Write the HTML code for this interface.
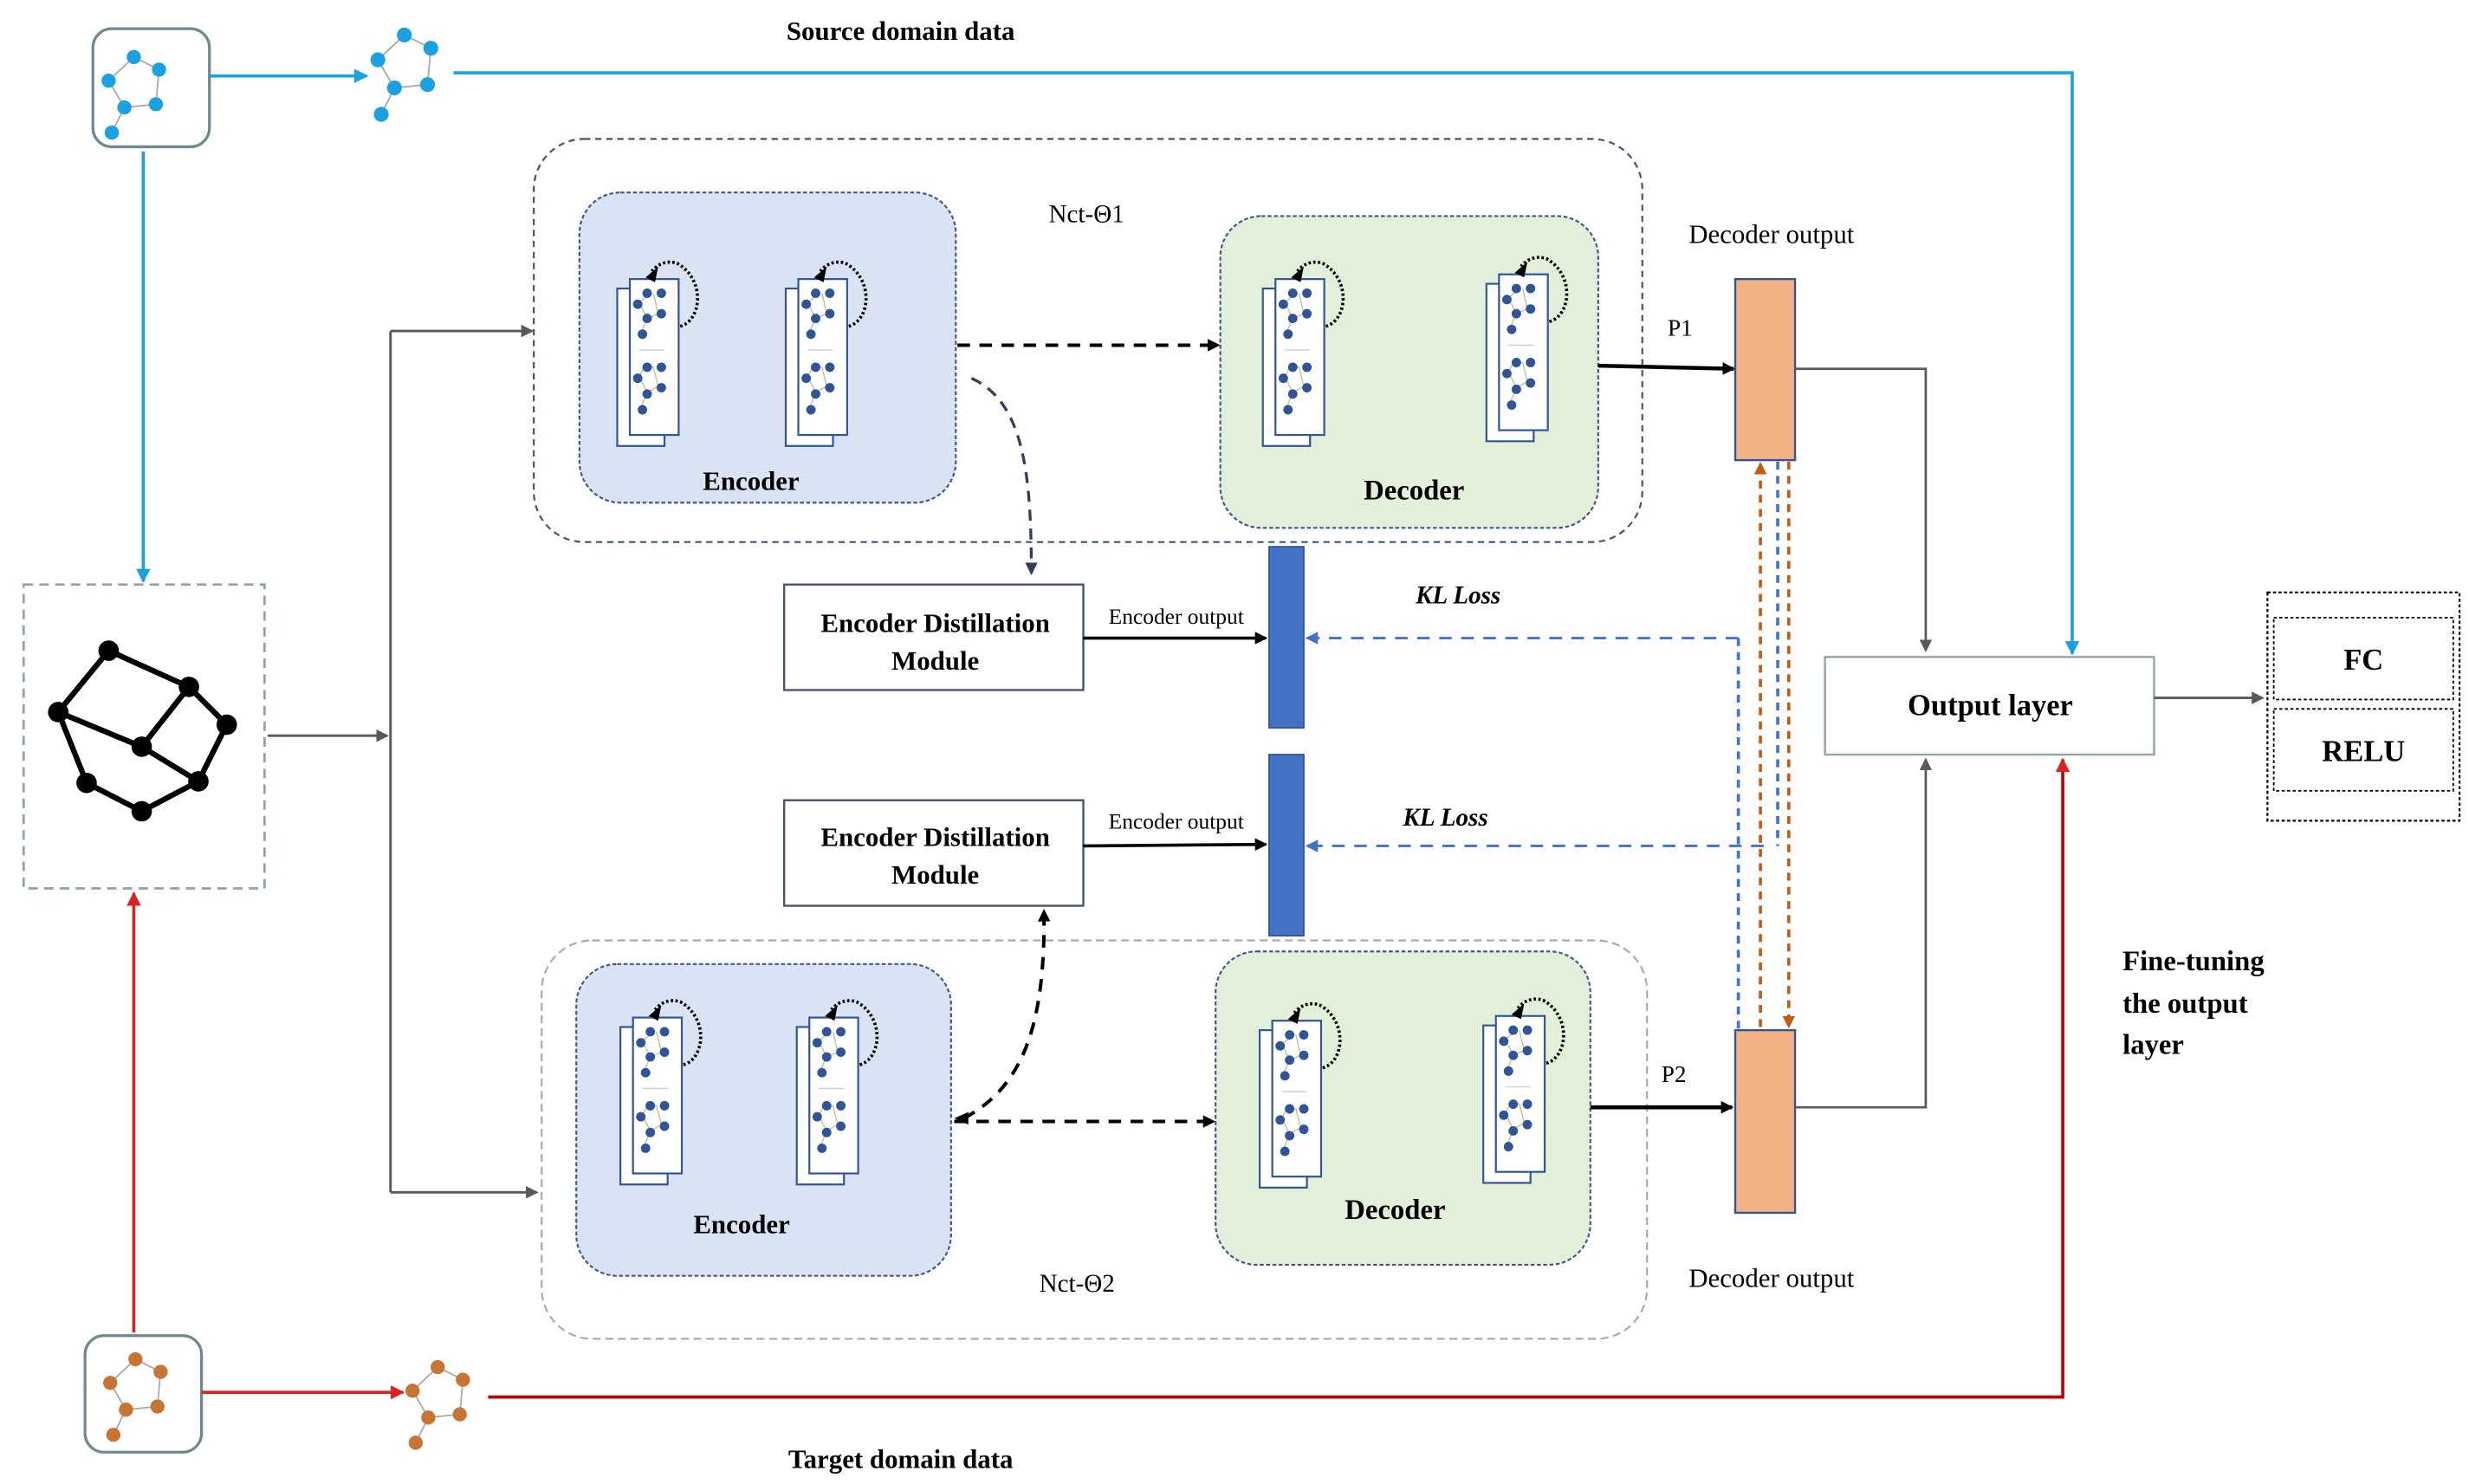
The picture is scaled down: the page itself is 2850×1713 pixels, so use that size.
<!DOCTYPE html>
<html><head><meta charset="utf-8"><style>
html,body{margin:0;padding:0;background:#fff;}
svg{display:block;}
text{font-family:"Liberation Serif",serif;}
</style></head><body>
<svg width="2850" height="1713" viewBox="0 0 1568 942" xmlns="http://www.w3.org/2000/svg">
<defs>
<marker id="ab" markerWidth="8" markerHeight="8" refX="7" refY="4" orient="auto" markerUnits="userSpaceOnUse"><path d="M0,0 L8,4 L0,8 z" fill="#000"/></marker>
<marker id="ag" markerWidth="8" markerHeight="8" refX="7" refY="4" orient="auto" markerUnits="userSpaceOnUse"><path d="M0,0 L8,4 L0,8 z" fill="#595959"/></marker>
<marker id="ac" markerWidth="9" markerHeight="9" refX="8" refY="4.5" orient="auto" markerUnits="userSpaceOnUse"><path d="M0,0 L9,4.5 L0,9 z" fill="#1ba1e2"/></marker>
<marker id="ar" markerWidth="9" markerHeight="9" refX="8" refY="4.5" orient="auto" markerUnits="userSpaceOnUse"><path d="M0,0 L9,4.5 L0,9 z" fill="#e02020"/></marker>
<marker id="abl" markerWidth="8" markerHeight="8" refX="7" refY="4" orient="auto" markerUnits="userSpaceOnUse"><path d="M0,0 L8,4 L0,8 z" fill="#4472c4"/></marker>
<marker id="ao" markerWidth="8" markerHeight="8" refX="7" refY="4" orient="auto" markerUnits="userSpaceOnUse"><path d="M0,0 L8,4 L0,8 z" fill="#c55a11"/></marker>
<marker id="ad" markerWidth="8" markerHeight="8" refX="7" refY="4" orient="auto" markerUnits="userSpaceOnUse"><path d="M0,0 L8,4 L0,8 z" fill="#2e3e5c"/></marker>
<g id="card">
  <rect x="-8" y="6" width="30" height="100" fill="#fff" stroke="#2f5597" stroke-width="1.2"/>
  <rect x="0" y="0" width="31" height="99" fill="#fff" stroke="#2f5597" stroke-width="1.2"/>
  <g stroke="#c8c0a0" stroke-width="0.8" fill="none">
    <path d="M6,15 L11,25 L18,22 L15,9 M11,25 L7,34 M6,15 L13,9"/>
    <path d="M6,62 L11,72 L18,68 L15,56 L9,56 Z M11,72 L7,82"/>
  </g>
  <g fill="#2f5597">
    <circle cx="11" cy="9" r="3"/><circle cx="20" cy="9" r="3"/><circle cx="5" cy="16" r="3"/><circle cx="20" cy="22" r="3"/><circle cx="11" cy="25" r="3"/><circle cx="8" cy="35" r="3"/>
    <circle cx="11" cy="56" r="3"/><circle cx="20" cy="56" r="3"/><circle cx="5" cy="63" r="3"/><circle cx="20" cy="69" r="3"/><circle cx="11" cy="73" r="3"/><circle cx="8" cy="83" r="3"/>
  </g>
  <line x1="6" y1="45" x2="22" y2="45" stroke="#c8d0e0" stroke-width="0.8"/>
  <path d="M32,30 C46,26 48,0 30,-10 C24,-12 18,-10 14,-5" fill="none" stroke="#000" stroke-width="2" stroke-dasharray="1.5,1.5"/>
  <path d="M10,-1 L18,-8 L16,2 z" fill="#000"/>
</g>
<g id="molc">
  <path d="M16,0 L32,8 L30,30 L10,32 L0,15 Z M10,32 L2,48" fill="none" stroke="#aaa" stroke-width="1"/>
  <g fill="#1ba1e2"><circle cx="16" cy="0" r="4.5"/><circle cx="32" cy="8" r="4.5"/><circle cx="30" cy="30" r="4.5"/><circle cx="10" cy="32" r="4.5"/><circle cx="0" cy="15" r="4.5"/><circle cx="2" cy="48" r="4.5"/></g>
</g>
<g id="molo">
  <path d="M16,0 L32,8 L30,30 L10,32 L0,15 Z M10,32 L2,48" fill="none" stroke="#aaa" stroke-width="1"/>
  <g fill="#c87533"><circle cx="16" cy="0" r="4.5"/><circle cx="32" cy="8" r="4.5"/><circle cx="30" cy="30" r="4.5"/><circle cx="10" cy="32" r="4.5"/><circle cx="0" cy="15" r="4.5"/><circle cx="2" cy="48" r="4.5"/></g>
</g>
</defs>

<text x="572" y="25" font-size="17" font-weight="bold" text-anchor="middle">Source domain data</text>
<text x="572" y="932" font-size="17" font-weight="bold" text-anchor="middle">Target domain data</text>

<rect x="59" y="18" width="74" height="75" rx="12" fill="#fff" stroke="#6f8a8f" stroke-width="1.8"/>
<use href="#molc" transform="translate(69,36)"/>
<use href="#molc" transform="translate(240,22) scale(1.05)"/>
<line x1="133" y1="48" x2="233" y2="48" stroke="#1ba1e2" stroke-width="2" marker-end="url(#ac)"/>
<polyline points="288,46 1316,46 1316,415" fill="none" stroke="#1ba1e2" stroke-width="2" marker-end="url(#ac)"/>
<line x1="91" y1="96" x2="91" y2="369" stroke="#1ba1e2" stroke-width="2" marker-end="url(#ac)"/>

<rect x="54" y="848" width="74" height="74" rx="12" fill="#fff" stroke="#6f8a8f" stroke-width="1.8"/>
<use href="#molo" transform="translate(70,863)"/>
<use href="#molo" transform="translate(262,868)"/>
<line x1="85" y1="846" x2="85" y2="567" stroke="#e02020" stroke-width="2" marker-end="url(#ar)"/>
<line x1="128" y1="884" x2="256" y2="884" stroke="#e02020" stroke-width="2" marker-end="url(#ar)"/>
<polyline points="310,887 1310,887 1310,482" fill="none" stroke="#c00000" stroke-width="2" marker-end="url(#ar)"/>

<rect x="15" y="371" width="153" height="193" fill="#fff" stroke="#8fa3a8" stroke-width="1.5" stroke-dasharray="6,4"/>
<path d="M69,413 L37,452 L55,497 L90,515 L126,496 L144,460 L120,436 L69,413 M37,452 L90,474 L120,436 M90,474 L126,496" fill="none" stroke="#000" stroke-width="3.5"/>
<g fill="#000"><circle cx="69" cy="413" r="6.5"/><circle cx="120" cy="436" r="6.5"/><circle cx="37" cy="452" r="6.5"/><circle cx="144" cy="460" r="6.5"/><circle cx="90" cy="474" r="6.5"/><circle cx="55" cy="497" r="6.5"/><circle cx="126" cy="496" r="6.5"/><circle cx="90" cy="515" r="6.5"/></g>

<line x1="170" y1="467" x2="246" y2="467" stroke="#595959" stroke-width="1.6" marker-end="url(#ag)"/>
<line x1="248" y1="210" x2="248" y2="757" stroke="#595959" stroke-width="1.6"/>
<line x1="248" y1="210" x2="338" y2="210" stroke="#595959" stroke-width="1.6" marker-end="url(#ag)"/>
<line x1="248" y1="757" x2="341" y2="757" stroke="#595959" stroke-width="1.6" marker-end="url(#ag)"/>

<rect x="339" y="88" width="704" height="256" rx="32" fill="none" stroke="#44546a" stroke-width="1.2" stroke-dasharray="4,3"/>
<rect x="368" y="122" width="239" height="197" rx="26" fill="#dae3f3" stroke="#3c5a8a" stroke-width="1.2" stroke-dasharray="2.5,1.5"/>
<rect x="775" y="137" width="240" height="198" rx="26" fill="#e2efd9" stroke="#3c5a8a" stroke-width="1.2" stroke-dasharray="2.5,1.5"/>
<use href="#card" x="400" y="177"/>
<use href="#card" x="507" y="177"/>
<use href="#card" x="810" y="177"/>
<use href="#card" x="952" y="174"/>
<text x="477" y="311" font-size="17" font-weight="bold" text-anchor="middle">Encoder</text>
<text x="898" y="317" font-size="18" font-weight="bold" text-anchor="middle">Decoder</text>
<text x="690" y="141" font-size="16" text-anchor="middle">Nct-Θ1</text>
<line x1="608" y1="219" x2="774" y2="219" stroke="#000" stroke-width="2.2" stroke-dasharray="8,6" marker-end="url(#ab)"/>
<path d="M617,240 C650,255 655,300 655,364" fill="none" stroke="#2e3e5c" stroke-width="1.8" stroke-dasharray="7,5" marker-end="url(#ad)"/>

<rect x="344" y="597" width="702" height="253" rx="32" fill="none" stroke="#a8a8bc" stroke-width="1.2" stroke-dasharray="5,3"/>
<rect x="366" y="612" width="238" height="198" rx="26" fill="#dae3f3" stroke="#3c5a8a" stroke-width="1.2" stroke-dasharray="2.5,1.5"/>
<rect x="772" y="604" width="238" height="199" rx="26" fill="#e2efd9" stroke="#3c5a8a" stroke-width="1.2" stroke-dasharray="2.5,1.5"/>
<use href="#card" x="402" y="646"/>
<use href="#card" x="514" y="646"/>
<use href="#card" x="808" y="648"/>
<use href="#card" x="950" y="645"/>
<text x="471" y="783" font-size="17" font-weight="bold" text-anchor="middle">Encoder</text>
<text x="886" y="774" font-size="18" font-weight="bold" text-anchor="middle">Decoder</text>
<text x="684" y="820" font-size="16" text-anchor="middle">Nct-Θ2</text>
<line x1="606" y1="712" x2="771" y2="712" stroke="#000" stroke-width="2.2" stroke-dasharray="8,6" marker-end="url(#ab)"/>
<path d="M606,710 l9,-4 l0,8 z" fill="#000"/>
<path d="M612,710 C650,690 664,650 663,578" fill="none" stroke="#000" stroke-width="2.2" stroke-dasharray="8,6" marker-end="url(#ab)"/>

<rect x="498" y="371" width="190" height="67" fill="#fff" stroke="#44546a" stroke-width="1.3"/>
<text x="594" y="401" font-size="17" font-weight="bold" text-anchor="middle">Encoder Distillation</text>
<text x="594" y="425" font-size="17" font-weight="bold" text-anchor="middle">Module</text>
<rect x="498" y="508" width="190" height="67" fill="#fff" stroke="#44546a" stroke-width="1.3"/>
<text x="594" y="537" font-size="17" font-weight="bold" text-anchor="middle">Encoder Distillation</text>
<text x="594" y="561" font-size="17" font-weight="bold" text-anchor="middle">Module</text>
<text x="747" y="396" font-size="14" text-anchor="middle">Encoder output</text>
<text x="747" y="526" font-size="14" text-anchor="middle">Encoder output</text>
<line x1="688" y1="405" x2="804" y2="405" stroke="#000" stroke-width="2" marker-end="url(#ab)"/>
<line x1="688" y1="537" x2="804" y2="536" stroke="#000" stroke-width="2" marker-end="url(#ab)"/>
<rect x="806" y="347" width="22" height="115" fill="#4472c4" stroke="#2f5597"/>
<rect x="806" y="479" width="22" height="115" fill="#4472c4" stroke="#2f5597"/>
<text x="926" y="383" font-size="16" font-weight="bold" font-style="italic" text-anchor="middle">KL Loss</text>
<text x="918" y="524" font-size="16" font-weight="bold" font-style="italic" text-anchor="middle">KL Loss</text>

<line x1="1104" y1="405" x2="830" y2="405" stroke="#4472c4" stroke-width="1.6" stroke-dasharray="8,6" marker-end="url(#abl)"/>
<line x1="1120" y1="537" x2="830" y2="537" stroke="#4472c4" stroke-width="1.6" stroke-dasharray="8,6" marker-end="url(#abl)"/>
<line x1="1104" y1="405" x2="1104" y2="653" stroke="#4472c4" stroke-width="2" stroke-dasharray="5,4"/>
<line x1="1129" y1="293" x2="1129" y2="537" stroke="#4472c4" stroke-width="2" stroke-dasharray="5,4"/>
<line x1="1118" y1="652" x2="1118" y2="294" stroke="#c55a11" stroke-width="2" stroke-dasharray="5,4" marker-end="url(#ao)"/>
<line x1="1136" y1="293" x2="1136" y2="652" stroke="#c55a11" stroke-width="2" stroke-dasharray="5,4" marker-end="url(#ao)"/>

<text x="1125" y="154" font-size="17" text-anchor="middle">Decoder output</text>
<text x="1125" y="817" font-size="17" text-anchor="middle">Decoder output</text>
<text x="1067" y="213" font-size="15" text-anchor="middle">P1</text>
<text x="1063" y="687" font-size="15" text-anchor="middle">P2</text>
<line x1="1015" y1="232" x2="1101" y2="234" stroke="#000" stroke-width="2.5" marker-end="url(#ab)"/>
<line x1="1010" y1="703" x2="1100" y2="703" stroke="#000" stroke-width="2.5" marker-end="url(#ab)"/>
<rect x="1102" y="177" width="38" height="115" fill="#f4b183" stroke="#2f5597" stroke-width="1.3"/>
<rect x="1102" y="654" width="38" height="116" fill="#f4b183" stroke="#2f5597" stroke-width="1.3"/>
<polyline points="1140,234 1223,234 1223,413" fill="none" stroke="#595959" stroke-width="1.5" marker-end="url(#ag)"/>
<polyline points="1140,703 1223,703 1223,482" fill="none" stroke="#595959" stroke-width="1.5" marker-end="url(#ag)"/>

<rect x="1159" y="417" width="209" height="62" fill="#fff" stroke="#8fa3a8" stroke-width="1.3"/>
<text x="1264" y="454" font-size="19" font-weight="bold" text-anchor="middle">Output layer</text>
<line x1="1368" y1="443" x2="1437" y2="443" stroke="#595959" stroke-width="1.6" marker-end="url(#ag)"/>
<rect x="1440" y="376" width="122" height="145" fill="#fff" stroke="#000" stroke-width="1.2" stroke-dasharray="2,1.5"/>
<rect x="1444" y="392" width="114" height="52" fill="#fff" stroke="#000" stroke-width="1" stroke-dasharray="2,1.5"/>
<rect x="1444" y="450" width="114" height="52" fill="#fff" stroke="#000" stroke-width="1" stroke-dasharray="2,1.5"/>
<text x="1501" y="425" font-size="19" font-weight="bold" text-anchor="middle">FC</text>
<text x="1501" y="483" font-size="19" font-weight="bold" text-anchor="middle">RELU</text>

<text x="1348" y="616" font-size="18" font-weight="bold">Fine-tuning</text>
<text x="1348" y="643" font-size="18" font-weight="bold">the output</text>
<text x="1348" y="669" font-size="18" font-weight="bold">layer</text>
</svg>
</body></html>
